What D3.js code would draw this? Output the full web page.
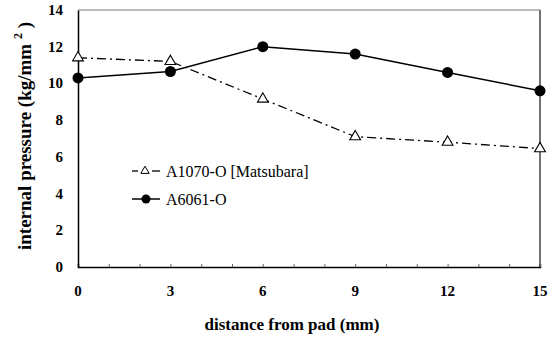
<!DOCTYPE html>
<html>
<head>
<meta charset="utf-8">
<script src="https://cdn.jsdelivr.net/npm/d3@7"></script>
<style>
body{margin:0;background:#fff;}
</style>
</head>
<body>
<script>
// data
var distance = [0, 3, 6, 9, 12, 15];
var a1070 = [11.4, 11.2, 9.15, 7.1, 6.8, 6.45];
var a6061 = [10.3, 10.65, 12.0, 11.6, 10.6, 9.6];
var xTicks = [0, 3, 6, 9, 12, 15];
var yTicks = [0, 2, 4, 6, 8, 10, 12, 14];

var FONT = "Liberation Serif";
var W = 553, H = 338;
var margin = {top: 10, right: 13, bottom: 71, left: 78},
    width = W - margin.left - margin.right,
    height = H - margin.top - margin.bottom;

var x = d3.scaleLinear().domain([0, 15]).range([0, width]);
var y = d3.scaleLinear().domain([0, 14]).range([height, 0]);

var svg = d3.select("body").append("svg")
    .attr("width", W).attr("height", H)
  .append("g")
    .attr("transform", "translate(" + margin.left + "," + margin.top + ")");

// frame top and right
svg.append("line").attr("x1", 0).attr("x2", width).attr("y1", 0).attr("y2", 0)
    .attr("stroke", "#777").attr("stroke-width", 1.2);
svg.append("line").attr("x1", width).attr("x2", width).attr("y1", 0).attr("y2", height)
    .attr("stroke", "#444").attr("stroke-width", 1.5);

// x axis with small inward ticks every unit
var xa = svg.append("g").attr("transform", "translate(0," + height + ")")
    .call(d3.axisBottom(x).tickValues(d3.range(0, 16)).tickSize(-3).tickFormat(""));
xa.select(".domain").attr("stroke", "#000").attr("stroke-width", 1.5);
xa.selectAll(".tick line").attr("stroke", "#666");
svg.selectAll(".xl").data(xTicks).enter().append("text")
    .attr("x", function(d){ return x(d); }).attr("y", height + 29)
    .attr("text-anchor", "middle").style("font-family", FONT)
    .style("font-size", "15px").style("font-weight", "bold")
    .text(function(d){ return d; });

// y axis
var ya = svg.append("g").call(d3.axisLeft(y).tickValues(yTicks).tickSize(0).tickFormat(""));
ya.select(".domain").attr("stroke", "#000").attr("stroke-width", 1.5);
svg.selectAll(".yl").data(yTicks).enter().append("text")
    .attr("x", -15).attr("y", function(d){ return y(d) + 5; })
    .attr("text-anchor", "end").style("font-family", FONT)
    .style("font-size", "15px").style("font-weight", "bold")
    .text(function(d){ return d; });

// titles
svg.append("text").attr("x", 292 - margin.left).attr("y", height + 63)
    .attr("text-anchor", "middle").style("font-family", FONT)
    .style("font-size", "17px").style("font-weight", "bold")
    .text("distance  from pad (mm)");
var yt = svg.append("text")
    .attr("transform", "translate(-47,126) rotate(-90)")
    .attr("text-anchor", "middle").style("font-family", FONT)
    .style("font-size", "19px").style("font-weight", "bold");
yt.append("tspan").text("internal pressure (kg/mm  ");
yt.append("tspan").attr("dy", -9).style("font-size", "12px").text("2");
yt.append("tspan").attr("dy", 9).text("  )");

// lines
var line = d3.line().x(function(d, i){ return x(distance[i]); }).y(function(d){ return y(d); });
svg.append("path").datum(a1070).attr("d", line).attr("fill", "none")
    .attr("stroke", "#000").attr("stroke-width", 1.3).attr("stroke-dasharray", "9,4,2,4");
svg.append("path").datum(a6061).attr("d", line).attr("fill", "none")
    .attr("stroke", "#000").attr("stroke-width", 1.5);

var tri = d3.symbol().type(d3.symbolTriangle).size(50);
svg.selectAll(".tri").data(a1070).enter().append("path")
    .attr("d", tri)
    .attr("transform", function(d, i){ return "translate(" + x(distance[i]) + "," + y(d) + ")"; })
    .attr("fill", "#fff").attr("stroke", "#000").attr("stroke-width", 1.1);
svg.selectAll(".dot").data(a6061).enter().append("circle")
    .attr("cx", function(d, i){ return x(distance[i]); }).attr("cy", function(d){ return y(d); })
    .attr("r", 5.5).attr("fill", "#000");

// legend
var lg = svg.append("g").attr("transform", "translate(54,161)");
lg.append("line").attr("x1", 0).attr("x2", 6).attr("y1", 0).attr("y2", 0).attr("stroke", "#000").attr("stroke-width", 1.3);
lg.append("line").attr("x1", 20).attr("x2", 28).attr("y1", 0).attr("y2", 0).attr("stroke", "#000").attr("stroke-width", 1.3);
lg.append("path").attr("d", d3.symbol().type(d3.symbolTriangle).size(30))
    .attr("transform", "translate(13,0)").attr("fill", "#fff").attr("stroke", "#000");
lg.append("text").attr("x", 34).attr("y", 6).style("font-family", FONT).style("font-size", "16px")
    .text("A1070-O  [Matsubara]");
lg.append("line").attr("x1", 0).attr("x2", 28).attr("y1", 28).attr("y2", 28).attr("stroke", "#000").attr("stroke-width", 1.5);
lg.append("circle").attr("cx", 14).attr("cy", 28).attr("r", 4.5).attr("fill", "#000");
lg.append("text").attr("x", 34).attr("y", 34).style("font-family", FONT).style("font-size", "16px")
    .text("A6061-O");
</script>
</body>
</html>
